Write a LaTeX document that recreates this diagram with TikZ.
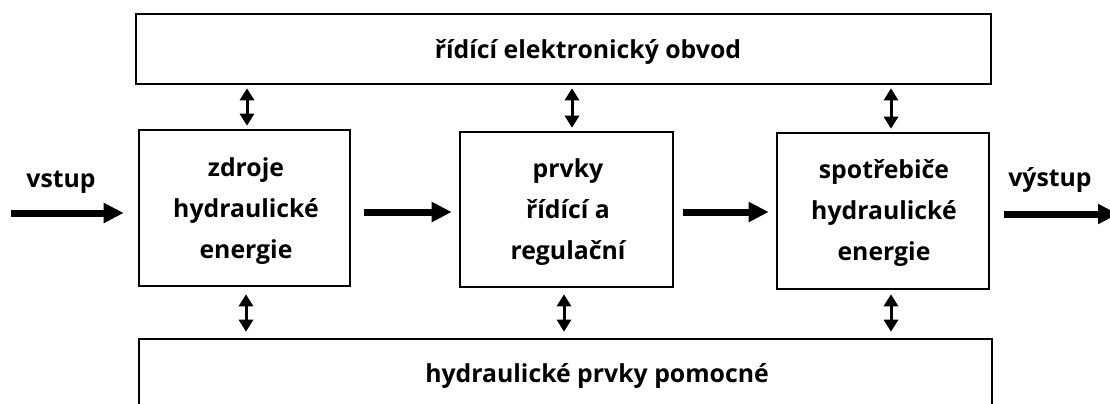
\documentclass[tikz,border=0pt]{standalone}
\usepackage{fontspec}
\setmainfont{Open Sans}[BoldFont={Open Sans Bold}]
\usetikzlibrary{arrows.meta}
\begin{document}
\begin{tikzpicture}[x=0.5pt,y=-0.5pt,
  box/.style={draw,line width=1.3pt,inner sep=0pt},
  lbl/.style={align=center,inner sep=0pt,
    font=\bfseries\fontsize{12.4}{20.3}\selectfont},
  flow/.style={line width=3.5pt,-{Triangle[length=10pt,width=9.5pt]}},
  link/.style={line width=1.5pt,{Triangle[length=6pt,width=7pt]}-{Triangle[length=6pt,width=7pt]}}]
\useasboundingbox (0,0) rectangle (1110,403);

% control and auxiliary blocks
\node[box,minimum width=427.5pt,minimum height=35pt] (top) at (563.5,49) {};
\node[lbl] (toptxt) at (588,52) {řídící elektronický obvod};
\node[box,minimum width=426.5pt,minimum height=37pt] (bot) at (565.5,376) {};
\node[lbl] (bottxt) at (597,376) {hydraulické prvky pomocné};

% main chain
\node[box,minimum width=105.5pt,minimum height=78pt] (src) at (244.5,208) {};
\node[lbl] (srctxt) at (246,211) {zdroje\\hydraulické\\energie};
\node[box,minimum width=106.5pt,minimum height=77.5pt] (ctl) at (566.5,209.5) {};
\node[lbl] (ctltxt) at (568,212) {prvky\\řídící a\\regulační};
\node[box,minimum width=106pt,minimum height=78pt] (use) at (883,211) {};
\node[lbl] (usetxt) at (884,213) {spotřebiče\\hydraulické\\energie};

% free ends of the input and output
\coordinate (in) at (11,213);
\coordinate (out) at (1118,214);

\node[lbl] (lin) at (61,182) {vstup};
\node[lbl] (lout) at (1050,180) {výstup};

% energy flow
\draw[flow] (in) -- ([xshift=-7pt]src.west |- in);
\draw[flow] ([xshift=6.5pt]src.east |- 0,212) -- ([xshift=-3.5pt]ctl.west |- 0,212);
\draw[flow] ([xshift=4.5pt]ctl.east |- 0,212) -- ([xshift=-3.5pt]use.west |- 0,212);
\draw[flow] ([xshift=7pt]use.east |- out) -- (out);

% links to the control circuit
\draw[link,shorten <=1.5pt,shorten >=1.5pt] (src.north -| 247,0) -- (top.south -| 247,0);
\draw[link,shorten <=1.5pt,shorten >=1.5pt] (ctl.north -| 572,0) -- (top.south -| 572,0);
\draw[link,shorten <=1.5pt,shorten >=1.5pt] (use.north -| 891,0) -- (top.south -| 891,0);

% links to the auxiliary elements
\draw[link,shorten <=3.5pt,shorten >=3pt] (src.south -| 246,0) -- (bot.north -| 246,0);
\draw[link,shorten <=3pt,shorten >=3pt] (ctl.south -| 564,0) -- (bot.north -| 564,0);
\draw[link,shorten <=2pt,shorten >=3pt] (use.south -| 891,0) -- (bot.north -| 891,0);
\end{tikzpicture}
\end{document}
